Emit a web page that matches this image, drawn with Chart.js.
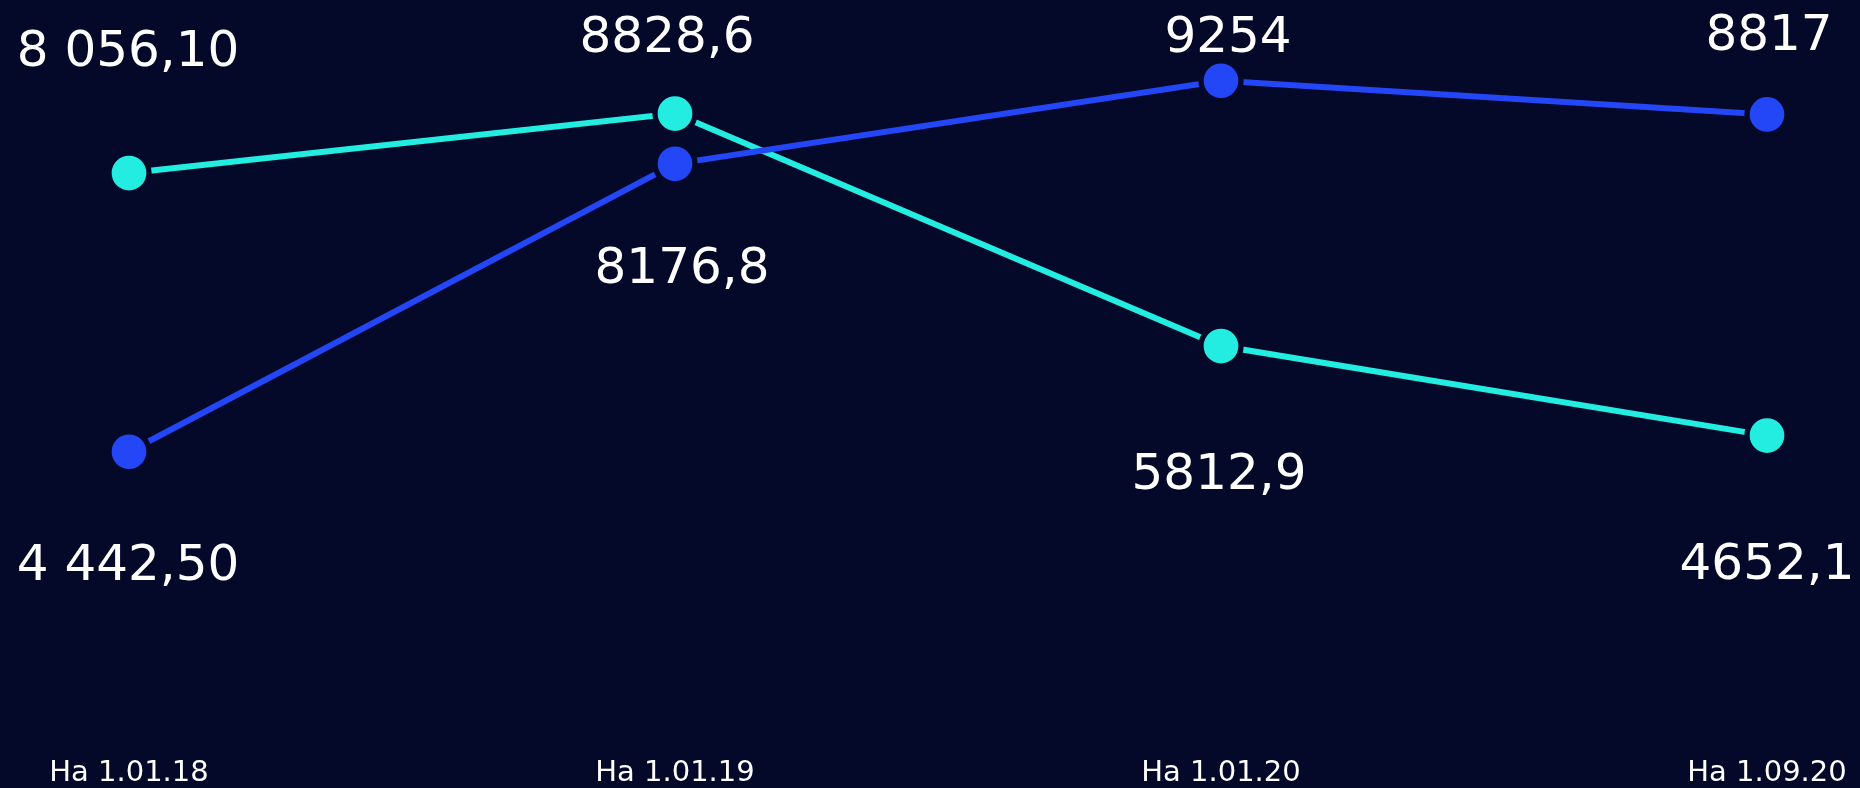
<!DOCTYPE html>
<html>
<head>
<meta charset="utf-8">
<script src="https://cdn.jsdelivr.net/npm/chart.js@4.4.1/dist/chart.umd.min.js"></script>
<style>
  html, body { margin: 0; padding: 0; background: #040829; }
  #wrap { width: 1860px; height: 788px; }
</style>
</head>
<body>
<div id="wrap"><canvas id="grafico" width="1860" height="788"></canvas></div>
<script>
const datas = ["На 1.01.18", "На 1.01.19", "На 1.01.20", "На 1.09.20"];
const azul = [4442.5, 8176.8, 9254, 8817];
const ciano = [8056.1, 8828.6, 5812.9, 4652.1];
const rotulosAzul = ["4 442,50", "8176,8", "9254", "8817"];
const rotulosCiano = ["8 056,10", "8828,6", "5812,9", "4652,1"];

const FUNDO = "#040829";
const COR_AZUL = "#2346f6";
const COR_CIANO = "#22ede0";

// deslocamento dos rotulos em relacao ao ponto (px)
const desloc = [
  { dx: [-1, 7, 7, 2], dy: [128, 119, -29, -64] },
  { dx: [-1, -8, -2, 0], dy: [-107, -62, 143, 143] }
];

const rotulos = {
  id: "rotulos",
  afterDatasetsDraw(chart) {
    const ctx = chart.ctx;
    ctx.save();
    ctx.font = "50px 'DejaVu Sans'";
    ctx.fillStyle = "#ffffff";
    ctx.textAlign = "center";
    ctx.textBaseline = "alphabetic";
    chart.data.datasets.forEach((ds, i) => {
      chart.getDatasetMeta(i).data.forEach((p, j) => {
        ctx.fillText(ds.rotulos[j], p.x + desloc[i].dx[j], p.y + desloc[i].dy[j]);
      });
    });
    ctx.restore();
  }
};

new Chart(document.getElementById("grafico"), {
  type: "line",
  data: {
    labels: datas,
    datasets: [
      {
        data: azul, rotulos: rotulosAzul,
        borderColor: COR_AZUL, backgroundColor: COR_AZUL, borderWidth: 6,
        pointRadius: 20, pointHoverRadius: 20, pointBorderWidth: 5.3,
        pointBackgroundColor: COR_AZUL, pointBorderColor: FUNDO, tension: 0
      },
      {
        data: ciano, rotulos: rotulosCiano,
        borderColor: COR_CIANO, backgroundColor: COR_CIANO, borderWidth: 6,
        pointRadius: 20, pointHoverRadius: 20, pointBorderWidth: 5.3,
        pointBackgroundColor: COR_CIANO, pointBorderColor: FUNDO, tension: 0
      }
    ]
  },
  options: {
    responsive: false,
    animation: false,
    layout: { autoPadding: false, padding: { top: 0, left: 129, right: 93, bottom: 0 } },
    plugins: { legend: { display: false }, tooltip: { enabled: false } },
    scales: {
      x: {
        offset: false,
        grid: { display: false, drawTicks: false },
        border: { display: false },
        ticks: {
          color: "#ffffff", padding: 0, autoSkip: false, maxRotation: 0,
          font: { family: "'DejaVu Sans'", size: 29, lineHeight: 1.0 }
        }
      },
      y: {
        display: false,
        min: 458,
        max: 10301
      }
    }
  },
  plugins: [rotulos]
});
</script>
</body>
</html>
